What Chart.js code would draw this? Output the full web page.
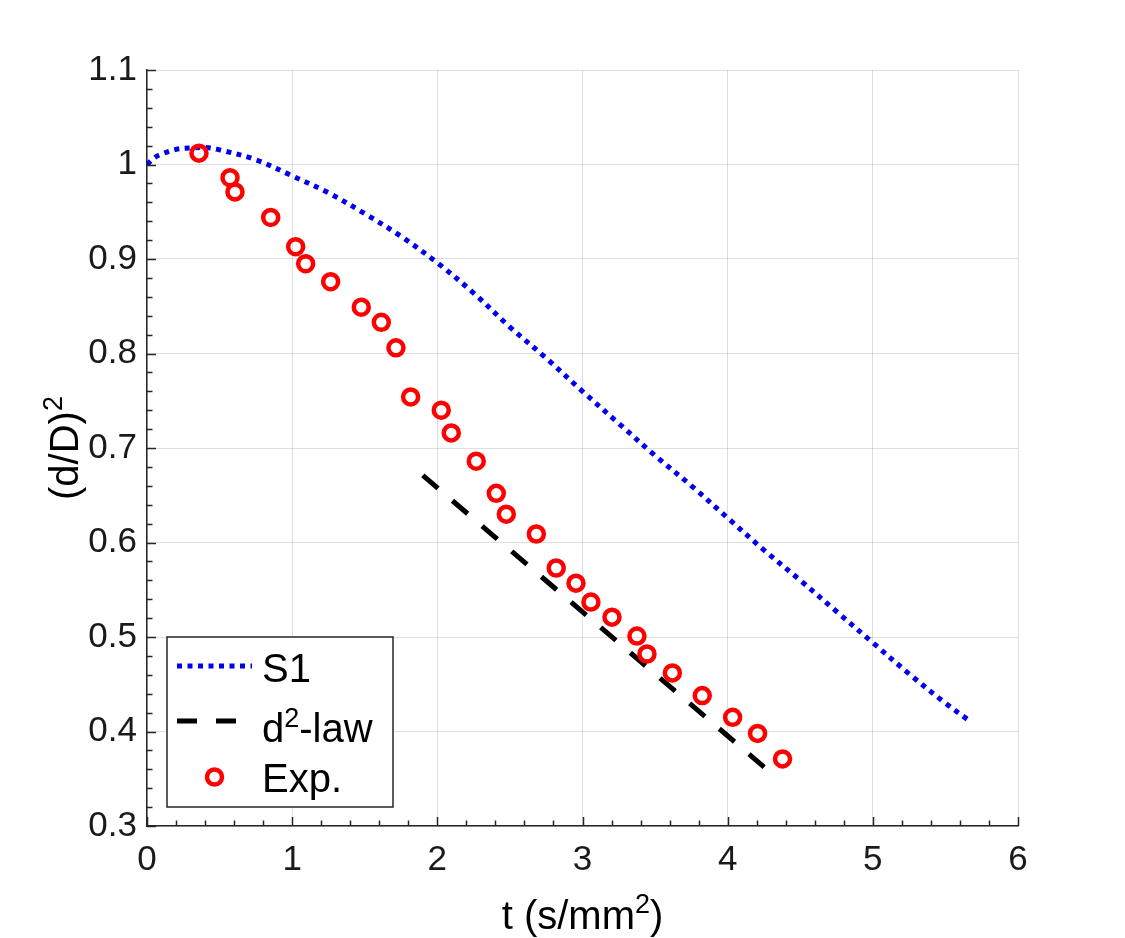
<!DOCTYPE html>
<html>
<head>
<meta charset="utf-8">
<script src="https://cdn.jsdelivr.net/npm/chart.js@4.4.1/dist/chart.umd.min.js"></script>
<style>
html,body{margin:0;padding:0;background:#ffffff;}
#wrap{width:1125px;height:938px;}
</style>
</head>
<body>
<div id="wrap"><canvas id="c" width="1125" height="938"></canvas></div>
<script>
// ---- data ----
const xTicks = [0, 1, 2, 3, 4, 5, 6];
const xTickLabels = ['0', '1', '2', '3', '4', '5', '6'];
const yTicks = [0.3, 0.4, 0.5, 0.6, 0.7, 0.8, 0.9, 1.0, 1.1];
const yTickLabels = ['0.3', '0.4', '0.5', '0.6', '0.7', '0.8', '0.9', '1', '1.1'];

const s1T = [0, 0.05, 0.1, 0.2, 0.3, 0.4, 0.5, 0.75, 1.0, 1.25, 1.5, 1.75, 2.0, 2.25, 2.5, 2.75, 3.0, 3.25, 3.5, 3.75, 4.0, 4.25, 4.5, 4.75, 5.0, 5.25, 5.5, 5.65];
const s1Y = [1.000, 1.007, 1.011, 1.016, 1.0175, 1.018, 1.0155, 1.005, 0.988, 0.970, 0.948, 0.924, 0.896, 0.864, 0.828, 0.795, 0.760, 0.726, 0.692, 0.660, 0.626, 0.592, 0.560, 0.527, 0.494, 0.461, 0.430, 0.413];

const lawT = [1.90, 4.30];
const lawY = [0.671, 0.356];

const expT = [0.358, 0.572, 0.606, 0.852, 1.024, 1.093, 1.265, 1.476, 1.614, 1.715, 1.816, 2.027, 2.096, 2.268, 2.406, 2.475, 2.682, 2.819, 2.955, 3.058, 3.203, 3.375, 3.444, 3.619, 3.825, 4.034, 4.206, 4.378];
const expY = [1.012, 0.986, 0.971, 0.944, 0.913, 0.895, 0.876, 0.849, 0.833, 0.806, 0.754, 0.740, 0.716, 0.686, 0.652, 0.630, 0.609, 0.573, 0.557, 0.537, 0.521, 0.501, 0.482, 0.462, 0.438, 0.415, 0.398, 0.371];

const seriesNames = ['S1', 'd2-law', 'Exp.'];
const xTitle = ['t (s/mm', '2', ')'];
const yTitle = ['(d/D)', '2'];
const lawLegend = ['d', '2', '-law'];

// ---- styling ----
const FONT = '"Liberation Sans", Arial, Helvetica, sans-serif';
const AX = '#262626';
const GRID = 'rgba(38,38,38,0.15)';
const BLUE = '#0000f0';
const RED = '#ff0000';

function pts(xs, ys) { return xs.map((v, i) => ({ x: v, y: ys[i] })); }

const deco = {
  id: 'deco',
  afterDraw(chart) {
    const { ctx, chartArea: a, scales: { x, y } } = chart;
    ctx.save();
    // inward ticks (major + minor) on bottom and left axes
    ctx.strokeStyle = AX;
    ctx.lineWidth = 1.5;
    ctx.beginPath();
    for (let k = 0; k <= 30; k++) {
      const px = Math.round(x.getPixelForValue(k * 0.2)) + 0.5;
      const len = (k % 5 === 0) ? 9 : 5.5;
      ctx.moveTo(px, a.bottom);
      ctx.lineTo(px, a.bottom - len);
    }
    for (let k = 0; k <= 40; k++) {
      const py = Math.round(y.getPixelForValue(0.3 + k * 0.02)) + 0.5;
      const len = (k % 5 === 0) ? 9 : 5.5;
      ctx.moveTo(a.left, py);
      ctx.lineTo(a.left + len, py);
    }
    ctx.stroke();

    // axis titles
    ctx.fillStyle = '#000';
    ctx.textBaseline = 'alphabetic';
    ctx.textAlign = 'left';
    const big = '40px ' + FONT, sup = '27px ' + FONT;
    // x title
    ctx.font = big; const w1 = ctx.measureText(xTitle[0]).width; const w3 = ctx.measureText(xTitle[2]).width;
    ctx.font = sup; const w2 = ctx.measureText(xTitle[1]).width;
    let sx = (a.left + a.right) / 2 - (w1 + w2 + w3) / 2;
    const by = 929;
    ctx.font = big; ctx.fillText(xTitle[0], sx, by);
    ctx.font = sup; ctx.fillText(xTitle[1], sx + w1, by - 16);
    ctx.font = big; ctx.fillText(xTitle[2], sx + w1 + w2, by);
    // y title (rotated)
    ctx.save();
    ctx.translate(78, (a.top + a.bottom) / 2);
    ctx.rotate(-Math.PI / 2);
    ctx.font = big; const v1 = ctx.measureText(yTitle[0]).width;
    ctx.font = sup; const v2 = ctx.measureText(yTitle[1]).width;
    const vx = -(v1 + v2) / 2;
    ctx.font = big; ctx.fillText(yTitle[0], vx, 0);
    ctx.font = sup; ctx.fillText(yTitle[1], vx + v1, -16);
    ctx.restore();

    // legend box
    const L = a.left + 20, T = a.bottom - 189, W = 226, H = 170;
    ctx.fillStyle = '#ffffff';
    ctx.fillRect(L, T, W, H);
    ctx.strokeStyle = AX; ctx.lineWidth = 1.5;
    ctx.strokeRect(L, T, W, H);
    const ds = chart.data.datasets;
    const sx0 = L + 10, sx1 = L + 85, tx = L + 95;
    // S1 sample
    ctx.save();
    ctx.strokeStyle = ds[0].borderColor; ctx.lineWidth = ds[0].borderWidth; ctx.setLineDash(ds[0].borderDash); ctx.lineCap = 'butt';
    ctx.beginPath(); ctx.moveTo(sx0, T + 29); ctx.lineTo(sx1, T + 29); ctx.stroke();
    // d2 sample
    ctx.strokeStyle = ds[1].borderColor; ctx.lineWidth = ds[1].borderWidth; ctx.setLineDash(ds[1].borderDash);
    ctx.beginPath(); ctx.moveTo(sx0, T + 84); ctx.lineTo(sx1, T + 84); ctx.stroke();
    ctx.restore();
    // Exp marker
    ctx.strokeStyle = ds[2].pointBorderColor; ctx.lineWidth = ds[2].pointBorderWidth;
    ctx.beginPath(); ctx.arc((sx0 + sx1) / 2, T + 140, ds[2].pointRadius, 0, Math.PI * 2); ctx.stroke();
    // texts
    ctx.fillStyle = '#000';
    const lf = '40px ' + FONT, ls = '27px ' + FONT;
    ctx.font = lf; ctx.fillText(seriesNames[0], tx, T + 45);
    ctx.font = lf; const d1 = ctx.measureText(lawLegend[0]).width;
    ctx.fillText(lawLegend[0], tx, T + 105);
    ctx.font = ls; const d2 = ctx.measureText(lawLegend[1]).width;
    ctx.fillText(lawLegend[1], tx + d1, T + 90);
    ctx.font = lf; ctx.fillText(lawLegend[2], tx + d1 + d2, T + 105);
    ctx.fillText(seriesNames[2], tx, T + 155);
    ctx.restore();
  }
};

const tickFont = { family: FONT, size: 35 };

new Chart(document.getElementById('c'), {
  type: 'scatter',
  data: {
    datasets: [
      {
        label: seriesNames[0], data: pts(s1T, s1Y), showLine: true, order: 3,
        borderColor: BLUE, borderWidth: 5, borderDash: [5, 5.5], borderCapStyle: 'butt',
        pointRadius: 0, pointHoverRadius: 0, tension: 0.35, fill: false
      },
      {
        label: seriesNames[1], data: pts(lawT, lawY), showLine: true, order: 2,
        borderColor: '#000000', borderWidth: 5, borderDash: [20, 19], borderCapStyle: 'butt',
        pointRadius: 0, pointHoverRadius: 0, fill: false
      },
      {
        label: seriesNames[2], data: pts(expT, expY), showLine: false, order: 1,
        pointStyle: 'circle', pointRadius: 7.5, pointBorderWidth: 4.5,
        pointBorderColor: RED, pointBackgroundColor: 'rgba(0,0,0,0)',
        borderColor: RED, backgroundColor: 'rgba(0,0,0,0)'
      }
    ]
  },
  options: {
    responsive: false,
    animation: false,
    devicePixelRatio: 1,
    layout: { padding: { left: 0, top: 70, right: 107, bottom: 0 } },
    plugins: { legend: { display: false }, tooltip: { enabled: false } },
    scales: {
      x: {
        type: 'linear', min: 0, max: 6,
        afterBuildTicks: s => { s.ticks = xTicks.map(v => ({ value: v })); },
        afterFit: s => { s.height = 112; },
        grid: { color: GRID, lineWidth: 1, drawTicks: false },
        border: { display: true, color: AX, width: 1.5 },
        ticks: { padding: 13, font: tickFont, color: '#1a1a1a', maxRotation: 0, autoSkip: false,
                 callback: (v, i) => xTickLabels[i] }
      },
      y: {
        type: 'linear', min: 0.3, max: 1.1,
        afterBuildTicks: s => { s.ticks = yTicks.map(v => ({ value: v })); },
        afterFit: s => { s.width = 147; },
        grid: { color: GRID, lineWidth: 1, drawTicks: false },
        border: { display: true, color: AX, width: 1.5 },
        ticks: { padding: 10, font: tickFont, color: '#1a1a1a', autoSkip: false,
                 callback: (v, i) => yTickLabels[i] }
      }
    }
  },
  plugins: [deco]
});
</script>
</body>
</html>
